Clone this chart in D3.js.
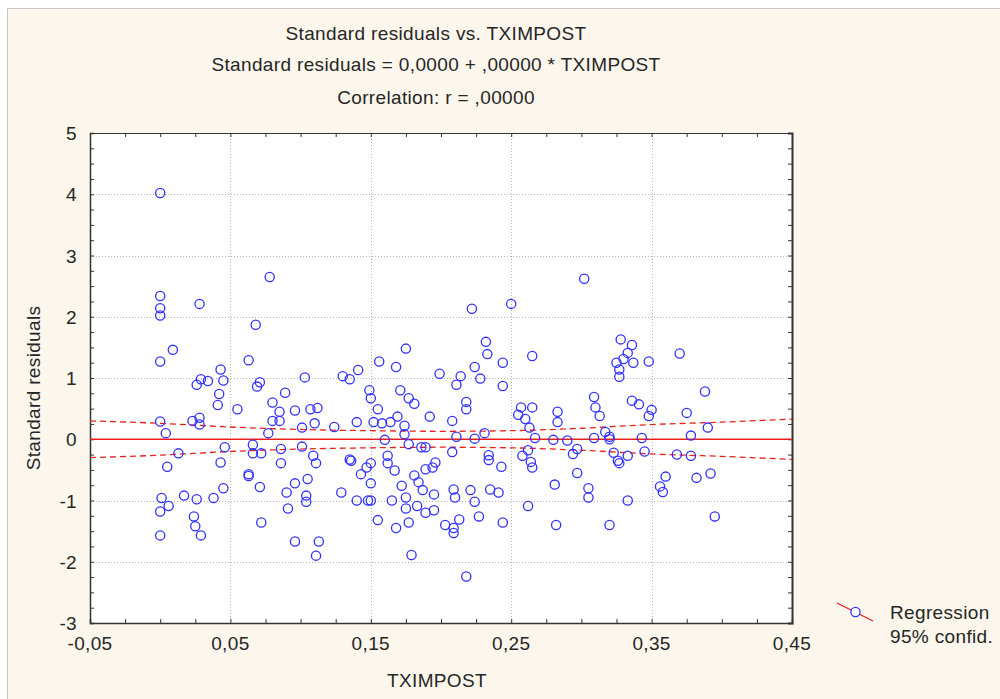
<!DOCTYPE html>
<html><head><meta charset="utf-8">
<script src="https://cdn.jsdelivr.net/npm/d3@7/dist/d3.min.js"></script>
<style>
html,body{margin:0;padding:0;background:#ffffff;}
svg{display:block;font-family:"Liberation Sans",Arial,sans-serif;}
svg text{letter-spacing:0.35px;}
</style></head><body>
<svg id="c" width="1000" height="699"></svg>
<script>
// ---- data ----
const titleLines = ["Standard residuals vs. TXIMPOST", "Standard residuals = 0,0000 + ,00000 * TXIMPOST", "Correlation: r = ,00000"];
const xLabel = "TXIMPOST";
const yLabel = "Standard residuals";
const xTicks = [-0.05, 0.05, 0.15, 0.25, 0.35, 0.45];
const xTickLabels = ["-0,05", "0,05", "0,15", "0,25", "0,35", "0,45"];
const yTicks = [-3, -2, -1, 0, 1, 2, 3, 4, 5];
const yTickLabels = ["-3", "-2", "-1", "0", "1", "2", "3", "4", "5"];
const legendLabels = ["Regression", "95% confid."];
const regX = [-0.05, 0.45];
const regY = [0, 0];
const ciX = [-0.05, 0.0, 0.05, 0.1, 0.15, 0.2, 0.25, 0.3, 0.35, 0.4, 0.45];
const ciUpper = [0.30, 0.26, 0.20, 0.16, 0.14, 0.13, 0.14, 0.18, 0.24, 0.28, 0.33];
const ciLower = [-0.30, -0.26, -0.20, -0.16, -0.14, -0.13, -0.14, -0.18, -0.24, -0.28, -0.33];
const ptX = [
0.000,0.000,0.000,0.000,0.028,0.078,0.068,0.009,0.000,0.063,0.043,0.029,0.034,0.026,0.045,0.042,0.041,0.055,0.069,0.071,
0.103,0.089,0.080,0.085,0.096,0.107,0.112,0.000,0.023,0.028,0.028,0.004,0.080,0.085,0.077,0.101,0.110,0.013,0.046,0.066,
0.066,0.072,0.086,0.101,0.109,0.111,0.005,0.043,0.086,0.063,0.063,0.105,0.096,0.071,0.045,0.090,0.104,0.104,0.001,0.006,
0.000,0.017,0.026,0.038,0.024,0.025,0.029,0.000,0.091,0.072,0.096,0.113,0.111,
0.222,0.175,0.232,0.233,0.156,0.168,0.141,0.224,0.130,0.135,0.199,0.214,0.228,0.211,0.149,0.150,0.155,0.171,0.177,0.181,
0.218,0.218,0.124,0.140,0.152,0.158,0.164,0.169,0.174,0.174,0.192,0.208,0.160,0.177,0.186,0.189,0.211,0.224,0.231,0.208,
0.135,0.136,0.162,0.162,0.167,0.150,0.147,0.143,0.150,0.196,0.194,0.189,0.181,0.184,0.187,0.195,0.172,0.175,0.175,0.183,
0.189,0.195,0.129,0.140,0.148,0.150,0.165,0.155,0.168,0.177,0.209,0.210,0.221,0.224,0.227,0.213,0.203,0.209,0.209,0.179,
0.218,0.234,0.234,0.235,0.243,0.241,
0.250,0.302,0.244,0.265,0.328,0.336,0.333,0.330,0.325,0.337,0.327,0.327,0.348,0.244,0.257,0.265,0.255,0.260,0.263,0.283,
0.283,0.309,0.310,0.313,0.336,0.341,0.350,0.348,0.267,0.280,0.290,0.309,0.317,0.320,0.320,0.343,0.262,0.258,0.264,0.265,
0.297,0.294,0.323,0.326,0.327,0.333,0.345,0.297,0.281,0.305,0.305,0.333,0.262,0.244,0.282,0.320,
0.370,0.388,0.375,0.390,0.378,0.368,0.378,0.360,0.356,0.358,0.382,0.392,0.395];
const ptY = [
4.02,2.34,2.14,2.02,2.21,2.65,1.87,1.46,1.27,1.29,1.14,0.98,0.95,0.89,0.96,0.74,0.56,0.49,0.86,0.93,
1.01,0.76,0.60,0.45,0.47,0.49,0.51,0.29,0.30,0.35,0.24,0.10,0.30,0.30,0.10,0.19,0.26,-0.23,-0.13,-0.09,
-0.23,-0.23,-0.16,-0.12,-0.27,-0.39,-0.45,-0.38,-0.39,-0.57,-0.60,-0.65,-0.72,-0.78,-0.80,-0.87,-0.92,-1.02,-0.96,-1.09,
-1.18,-0.92,-0.98,-0.96,-1.26,-1.42,-1.57,-1.57,-1.13,-1.36,-1.67,-1.67,-1.90,
2.13,1.48,1.59,1.39,1.27,1.18,1.13,1.18,1.03,0.98,1.07,1.03,0.99,0.89,0.80,0.67,0.49,0.80,0.67,0.58,
0.61,0.49,0.20,0.28,0.28,0.26,0.28,0.37,0.22,0.08,0.37,0.30,-0.01,-0.08,-0.13,-0.13,0.04,0.01,0.10,-0.21,
-0.33,-0.35,-0.27,-0.39,-0.51,-0.39,-0.46,-0.57,-0.72,-0.38,-0.46,-0.49,-0.59,-0.70,-0.83,-0.90,-0.76,-0.95,-1.13,-1.09,
-1.20,-1.16,-0.87,-1.00,-1.00,-1.00,-1.00,-1.32,-1.45,-1.36,-0.82,-0.95,-0.83,-1.02,-1.26,-1.31,-1.40,-1.45,-1.53,-1.89,
-2.24,-0.26,-0.34,-0.82,-0.45,-0.87,
2.21,2.62,1.25,1.36,1.63,1.54,1.41,1.31,1.25,1.25,1.14,1.02,1.27,0.87,0.52,0.52,0.40,0.33,0.19,0.45,
0.28,0.69,0.52,0.38,0.63,0.57,0.48,0.38,0.02,-0.01,-0.02,0.02,0.12,0.04,0.00,0.02,-0.18,-0.27,-0.37,-0.46,
-0.16,-0.24,-0.22,-0.35,-0.39,-0.27,-0.20,-0.55,-0.74,-0.80,-0.95,-1.00,-1.09,-1.36,-1.40,-1.40,
1.40,0.78,0.43,0.19,0.06,-0.25,-0.27,-0.61,-0.77,-0.86,-0.63,-0.56,-1.26];

// ---- drawing ----
const svg = d3.select("#c");
const L = 90, R = 792, T = 133, B = 623;
const x = d3.scaleLinear().domain([-0.05, 0.45]).range([L, R]);
const y = d3.scaleLinear().domain([-3, 5]).range([B, T]);
const cream = "#fdf6ec", red = "#e8201c", blue = "#3030ff", txt = "#262626";

svg.append("rect").attr("x", 0).attr("y", 0).attr("width", 1000).attr("height", 699).attr("fill", "#ffffff");
svg.append("rect").attr("x", 7.5).attr("y", 8.5).attr("width", 1000).attr("height", 700)
  .attr("fill", cream).attr("stroke", "#c8c8c8").attr("stroke-width", 1);
svg.append("rect").attr("x", L).attr("y", T).attr("width", R - L).attr("height", B - T).attr("fill", "#ffffff");

// gridlines
const g = svg.append("g");
g.selectAll(".gx").data(xTicks.filter(d => d > -0.05 && d < 0.45)).enter().append("line")
  .attr("x1", d => Math.round(x(d)) + 0.5).attr("x2", d => Math.round(x(d)) + 0.5).attr("y1", T).attr("y2", B)
  .attr("stroke", "#b4b4b4").attr("stroke-dasharray", "1,2");
g.selectAll(".gy").data(yTicks.filter(d => d > -3 && d < 5)).enter().append("line")
  .attr("y1", d => Math.round(y(d)) + 0.5).attr("y2", d => Math.round(y(d)) + 0.5).attr("x1", L).attr("x2", R)
  .attr("stroke", "#b4b4b4").attr("stroke-dasharray", "1,2");

// axes with inward minor ticks
const minorX = d3.range(0, 21).map(i => -0.05 + i * 0.025);
const minorY = d3.range(0, 33).map(i => -3 + i * 0.25);
const axB = d3.axisBottom(x).tickValues(minorX).tickSize(-4).tickFormat("");
const axT = d3.axisTop(x).tickValues(minorX).tickSize(-4).tickFormat("");
const axL = d3.axisLeft(y).tickValues(minorY).tickSize(-4).tickFormat("");
const axR = d3.axisRight(y).tickValues(minorY).tickSize(-4).tickFormat("");
function styleAx(sel, w) {
  sel.select(".domain").attr("stroke", "#333").attr("stroke-width", w);
  sel.selectAll(".tick line").attr("stroke", "#333");
}
styleAx(svg.append("g").attr("transform", `translate(0,${B})`).call(axB), 1.5);
styleAx(svg.append("g").attr("transform", `translate(0,${T})`).call(axT), 1);
styleAx(svg.append("g").attr("transform", `translate(${L},0)`).call(axL), 1.5);
styleAx(svg.append("g").attr("transform", `translate(${R},0)`).call(axR), 2);

// tick labels
svg.selectAll(".xl").data(xTicks).enter().append("text")
  .attr("x", d => x(d)).attr("y", 650).attr("text-anchor", "middle")
  .attr("font-size", 19).attr("fill", txt).text((d, i) => xTickLabels[i]);
svg.selectAll(".yl").data(yTicks).enter().append("text")
  .attr("x", 77).attr("y", d => y(d) + 7).attr("text-anchor", "end")
  .attr("font-size", 19).attr("fill", txt).text((d, i) => yTickLabels[i]);

// titles
const tcx = 436;
[40, 71, 104].forEach((yy, i) => {
  svg.append("text").attr("x", tcx).attr("y", yy).attr("text-anchor", "middle")
    .attr("font-size", 19).attr("fill", txt).text(titleLines[i]);
});
svg.append("text").attr("x", 437).attr("y", 687).attr("text-anchor", "middle")
  .attr("font-size", 19).attr("fill", txt).text(xLabel);
svg.append("text").attr("transform", "translate(40,388) rotate(-90)").attr("text-anchor", "middle")
  .attr("font-size", 19).attr("fill", txt).text(yLabel);

// regression + CI
const clip = svg.append("clipPath").attr("id", "pc").append("rect")
  .attr("x", L).attr("y", T).attr("width", R - L).attr("height", B - T);
const pg = svg.append("g").attr("clip-path", "url(#pc)");
const line = d3.line().x(d => x(d[0])).y(d => y(d[1])).curve(d3.curveMonotoneX);
pg.append("path").attr("d", line(ciX.map((v, i) => [v, ciUpper[i]])))
  .attr("fill", "none").attr("stroke", red).attr("stroke-width", 1.3).attr("stroke-dasharray", "6,4");
pg.append("path").attr("d", line(ciX.map((v, i) => [v, ciLower[i]])))
  .attr("fill", "none").attr("stroke", red).attr("stroke-width", 1.3).attr("stroke-dasharray", "6,4");
pg.append("path").attr("d", d3.line().x(d => x(d[0])).y(d => y(d[1]))(regX.map((v, i) => [v, regY[i]])))
  .attr("fill", "none").attr("stroke", red).attr("stroke-width", 1.5);

// points
pg.selectAll("circle.p").data(ptX.map((v, i) => [v, ptY[i]])).enter().append("circle")
  .attr("cx", d => x(d[0])).attr("cy", d => y(d[1])).attr("r", 4.6)
  .attr("fill", "none").attr("stroke", blue).attr("stroke-width", 1.3);

// legend
svg.append("line").attr("x1", 837).attr("y1", 603).attr("x2", 873).attr("y2", 621)
  .attr("stroke", red).attr("stroke-width", 1.3);
svg.append("circle").attr("cx", 855.5).attr("cy", 612).attr("r", 4.6)
  .attr("fill", "#ffffff").attr("stroke", blue).attr("stroke-width", 1.3);
svg.append("text").attr("x", 890).attr("y", 619).attr("font-size", 19).attr("fill", txt).text(legendLabels[0]);
svg.append("text").attr("x", 890).attr("y", 643).attr("font-size", 19).attr("fill", txt).text(legendLabels[1]);
</script>
</body></html>
